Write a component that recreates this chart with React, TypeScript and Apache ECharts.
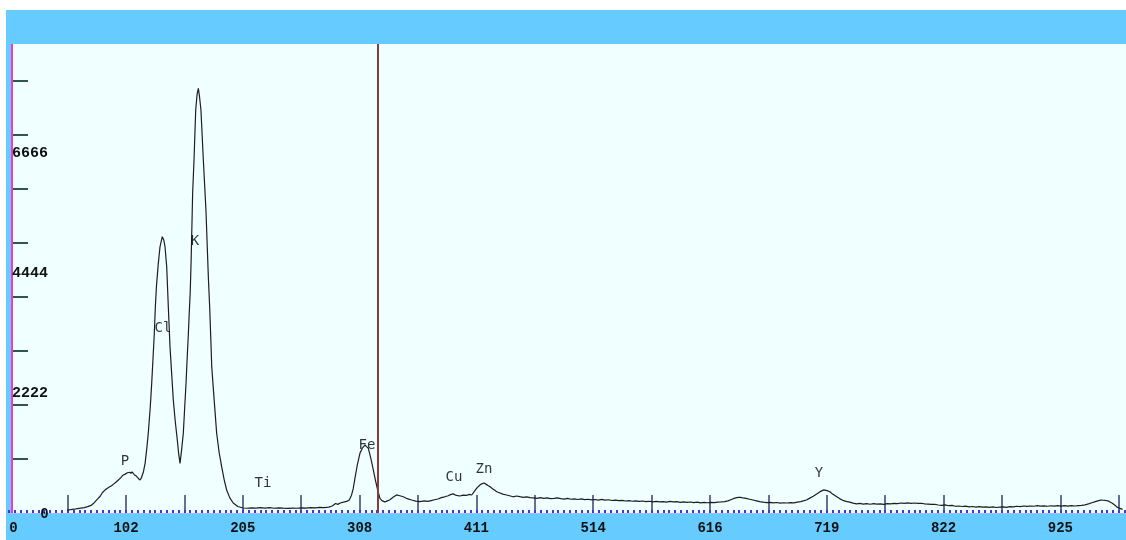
import React, { useEffect, useRef } from "react";
import * as echarts from "echarts";

// Spectrum: [channel, counts]
const spectrum: [number, number][] = [
  [51, 55], [54, 62], [57, 70], [60, 80], [63, 90], [66, 100], [69, 118], [72, 140], [74, 175], [76, 220],
  [78, 265], [80, 310], [82, 380], [84, 420], [86, 455], [88, 480], [90, 505], [92, 540], [94, 575], [96, 610],
  [98, 650], [100, 700], [102, 720], [104, 745], [106, 755], [107, 735], [108, 760], [110, 710], [112, 680], [114, 630],
  [115, 611], [116, 640], [118, 760], [119.5, 920], [121, 1200], [122.3, 1480], [124, 1950], [125.3, 2400], [126.5, 2880], [127.6, 3330],
  [128.5, 3820], [129.5, 4200], [131, 4600], [132.6, 4930], [134.6, 5117], [136, 5050], [137, 4930], [138.5, 4560], [139.9, 3820], [141.4, 3080],
  [142.8, 2600], [144.3, 2093], [146, 1700], [147.8, 1352], [149, 1100], [150.2, 920], [151.5, 1150], [153.1, 1476], [154.3, 1950], [155.5, 2407],
  [156.5, 2870], [157.5, 3300], [158.3, 3700], [159.2, 4100], [160, 4700], [161.3, 5920], [162.5, 6537], [164, 7463], [165.2, 7750], [166.3, 7865],
  [167.4, 7700], [168.6, 7463], [170.7, 6537], [173, 5611], [175.1, 4376], [176.3, 3800], [177.4, 3142], [178.1, 2709], [180.2, 2100], [182.4, 1481],
  [184.6, 1120], [186.8, 857], [189, 620], [191.2, 426], [194, 280], [197, 185], [201, 120], [205.6, 93], [209, 88], [213, 95],
  [217, 90], [221, 100], [225, 92], [229, 98], [233, 88], [237, 96], [241, 90], [245, 85], [249, 92], [253, 88],
  [257, 95], [261, 90], [265, 100], [269, 95], [273, 105], [277, 100], [281, 110], [284, 130], [287, 175], [289, 160],
  [291, 185], [294, 200], [296.7, 215], [299, 240], [301, 330], [302.5, 450], [304, 640], [306, 880], [308.4, 1105], [310.5, 1200],
  [312.8, 1259], [314.2, 1230], [315.8, 1198], [318, 1010], [320.2, 796], [322, 610], [324, 426], [326, 272], [328, 225], [330.4, 205],
  [332.5, 225], [334.8, 245], [337.5, 290], [340.7, 335], [343.5, 320], [346.5, 300], [350, 265], [353.9, 240], [357.5, 220], [361.2, 210],
  [365, 225], [368, 215], [371, 230], [374, 245], [377, 260], [380, 285], [383, 300], [386, 320], [388.5, 345], [390.5, 355],
  [392.5, 330], [394.5, 320], [396.4, 315], [399, 330], [402, 325], [404.5, 345], [406.7, 333], [409, 400], [411.5, 470], [413.9, 518],
  [415.5, 540], [417.5, 555], [419.5, 530], [421, 510], [422.8, 487], [425, 450], [427, 420], [428.7, 394], [431, 375], [434, 350],
  [437.4, 333], [440, 320], [443, 300], [446, 315], [449, 302], [452, 290], [455, 300], [458, 285], [461, 280], [464, 272],
  [467, 285], [470, 270], [473, 280], [476, 265], [479, 272], [482, 280], [485, 265], [488, 258], [491, 270], [494, 255],
  [497, 260], [500, 250], [503, 262], [506, 248], [509, 255], [512, 242], [515, 250], [518, 240], [521, 252], [524, 238],
  [527, 245], [530, 232], [533, 240], [536, 228], [539, 235], [542, 222], [545, 230], [548, 218], [551, 226], [554, 214],
  [557, 222], [560, 210], [563, 218], [566, 206], [569, 215], [572, 205], [575, 212], [578, 200], [581, 214], [584, 205],
  [587, 210], [590, 198], [593, 207], [596, 196], [599, 204], [602, 192], [605, 200], [608, 188], [611, 196], [614, 190],
  [617, 198], [620, 192], [623, 200], [626, 205], [629, 212], [632, 225], [635, 250], [638, 275], [641, 288], [643, 292],
  [645, 280], [648, 270], [651, 255], [654, 240], [657, 225], [660, 210], [663, 200], [666, 191], [669, 198], [672, 186],
  [675, 194], [678, 182], [681, 190], [684, 185], [687, 193], [690, 188], [693, 200], [696, 212], [699, 228], [701, 240],
  [704, 275], [707, 310], [710, 352], [713, 395], [716.4, 428], [719, 415], [721.7, 394], [724, 350], [727, 310], [730.5, 262],
  [733, 235], [736, 215], [739, 200], [742, 182], [745, 170], [748, 178], [751, 165], [754, 175], [757, 162], [760, 172],
  [763, 165], [766, 170], [769, 160], [772, 172], [775, 168], [778, 178], [781, 175], [784, 185], [787, 180], [790, 188],
  [793, 180], [796, 185], [799, 178], [802, 180], [805, 170], [808, 165], [811, 158], [814, 162], [817, 148], [820, 140],
  [823, 150], [826, 135], [829, 140], [832, 125], [835, 130], [838, 120], [841, 128], [844, 115], [847, 120], [850, 110],
  [853, 118], [856, 108], [859, 115], [862, 105], [865, 112], [868, 102], [871, 108], [874, 112], [877, 105], [880, 118],
  [883, 112], [886, 125], [889, 118], [892, 130], [895, 122], [898, 130], [901, 125], [904, 135], [907, 126], [910, 132],
  [913, 125], [916, 134], [919, 126], [922, 135], [925, 128], [928, 136], [931, 128], [934, 138], [937, 130], [940, 135],
  [943, 140], [946, 150], [949, 168], [952, 190], [955, 210], [958, 228], [960, 240], [962, 236], [964, 232], [966, 225],
  [968, 205], [970, 180], [972, 150], [974, 110], [976, 90], [979, 68],
];

const peakNames = ["P", "Cl", "K", "Ti", "Fe", "Cu", "Zn", "Y"];
const peakChannels = [101.8, 135.2, 163.4, 223.2, 314.6, 391.1, 417.5, 712];
const peakHeights = [981, 3444, 5056, 574, 1278, 685, 833, 759];

const xTickLabels = ["0", "102", "205", "308", "411", "514", "616", "719", "822", "925"];
const xLabelStep = 102.7;
const xMajorStep = 51.35;
const xMinorStep = 5.135;
const xMax = 982;
const yLabelValues = [2222, 4444, 6666];
const yTickValues = [1000, 2000, 3000, 4000, 5000, 6000, 7000, 8000];
const yMax = 8685;
const cursorChannel = 324.5;

export default function App() {
  const ref = useRef<HTMLDivElement>(null);
  useEffect(() => {
    if (!ref.current) return;
    const chart = echarts.init(ref.current, undefined, { renderer: "svg" });
    const xLabelValues = xTickLabels.map((_, i) => i * xLabelStep);
    const xTickValues: number[] = [];
    for (let k = 1; k * xMajorStep < xMax; k++) xTickValues.push(k * xMajorStep);
    chart.setOption({
      animation: false,
      graphic: [
        { type: "rect", z: -10, shape: { x: 6, y: 10, width: 1120, height: 530 }, style: { fill: "#66ccff" }, silent: true },
        { type: "rect", z: -9, shape: { x: 13, y: 44, width: 1113, height: 469 }, style: { fill: "#f0ffff" }, silent: true },
        { type: "rect", z: -8, shape: { x: 11, y: 44, width: 2, height: 469 }, style: { fill: "#ff33cc" }, silent: true },
        {
          type: "text", z: 100, x: 44.5, y: 513.5,
          style: { text: "0", fill: "#111", font: "bold 14px 'Liberation Mono'", align: "center", verticalAlign: "middle" },
        },
      ],
      grid: { left: 9.2, right: 0, top: 44, bottom: 27 },
      xAxis: [
        {
          type: "value",
          position: "bottom",
          min: 0,
          max: xMax,
          splitLine: { show: false },
          axisLine: { show: true, lineStyle: { color: "#a8b4ff", width: 1 } },
          axisTick: { show: true, inside: true, length: 18, customValues: xTickValues, lineStyle: { color: "#3c3c6e", width: 1.5 } },
          axisLabel: {
            customValues: xLabelValues,
            formatter: (v: number) => xTickLabels[Math.round(v / xLabelStep)] ?? "",
            fontFamily: "Liberation Mono",
            fontWeight: "bold",
            fontSize: 14,
            color: "#111",
            margin: 8,
            alignMinLabel: "left",
          },
        },
        {
          type: "value",
          position: "bottom",
          min: 0,
          max: xMax,
          interval: xMinorStep,
          splitLine: { show: false },
          axisLine: { show: false },
          axisTick: { show: true, inside: true, length: 3, lineStyle: { color: "#3a3ad8", width: 2 } },
          axisLabel: { show: false },
        },
      ],
      yAxis: {
        type: "value",
        min: 0,
        max: yMax,
        offset: -3.8,
        splitLine: { show: false },
        axisLine: { show: false },
        axisTick: { show: true, inside: true, length: 15, customValues: yTickValues, lineStyle: { color: "#2f5454", width: 2 } },
        axisLabel: {
          inside: true,
          margin: -1,
          customValues: yLabelValues,
          formatter: (v: number) => String(v),
          fontFamily: "Liberation Mono",
          fontWeight: "bold",
          fontSize: 15,
          color: "#111",
        },
      },
      series: [
        {
          type: "line",
          data: spectrum,
          showSymbol: false,
          silent: true,
          lineStyle: { color: "#1e1e1e", width: 1.2 },
          markLine: {
            silent: true,
            symbol: "none",
            label: { show: false },
            lineStyle: { color: "#8b3a3a", width: 2, type: "solid" },
            data: [{ xAxis: cursorChannel }],
          },
          z: 3,
        },
        {
          type: "scatter",
          symbolSize: 0,
          silent: true,
          data: peakNames.map((n, i) => ({ name: n, value: [peakChannels[i], peakHeights[i]] })),
          label: {
            show: true,
            position: [0, 0],
            align: "center",
            verticalAlign: "middle",
            formatter: (p: any) => p.name,
            fontFamily: "DejaVu Sans Mono",
            fontSize: 14,
            color: "#000",
          },
          z: 5,
        },
      ],
    });
    return () => chart.dispose();
  }, []);
  return <div ref={ref} style={{ position: "fixed", left: 0, top: 0, width: 1126, height: 540 }} />;
}
